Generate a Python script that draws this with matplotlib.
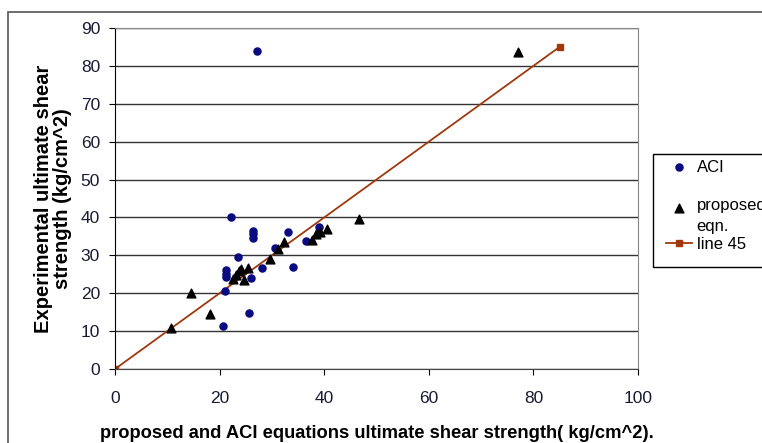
import matplotlib.pyplot as plt
from matplotlib.patches import Rectangle

plt.rcParams['font.family'] = ['Liberation Sans', 'DejaVu Sans']

# ACI equation vs experiment
aci_x = [27.1, 22.1, 26.3, 26.3, 26.3, 33.1, 36.5, 39.1, 30.6, 23.6, 28.2, 34.1,
         21.2, 21.2, 21.2, 26.0, 21.0, 25.7, 20.7]
aci_y = [84.0, 40.0, 36.5, 35.5, 34.6, 36.1, 33.9, 37.6, 32.0, 29.6, 26.6, 27.0,
         26.1, 25.1, 24.2, 23.9, 20.6, 14.9, 11.4]

# proposed equation vs experiment
prop_x = [10.8, 14.6, 18.2, 22.6, 23.1, 23.8, 24.1, 25.4, 24.7, 29.6, 31.1, 32.4,
          37.7, 38.4, 39.2, 40.5, 46.7, 77.0]
prop_y = [10.9, 20.1, 14.5, 23.7, 24.8, 25.9, 26.3, 26.7, 23.5, 29.0, 31.6, 33.6,
          34.0, 35.6, 36.1, 36.9, 39.6, 83.6]

# 45 degree line
line_x = [0, 85]
line_y = [0, 85]

fig = plt.figure(figsize=(7.62, 4.43), dpi=100)
# outer chart frame (runs off the right and bottom edges)
fig.patches.append(Rectangle((8 / 762, -0.1), 1.2, 1 - 12 / 443 + 0.1,
                             transform=fig.transFigure, fill=False,
                             edgecolor='#555555', linewidth=1.2))
# legend frame
fig.patches.append(Rectangle((653 / 762, 1 - 267 / 443), 0.3, 113 / 443,
                             transform=fig.transFigure, fill=False,
                             edgecolor='black', linewidth=1.0))

ax = fig.add_axes([115 / 762, 1 - 369 / 443, 523 / 762, 341 / 443])
ax.set_xlim(0, 100)
ax.set_ylim(0, 90)
ax.set_xticks(range(0, 101, 20))
ax.set_yticks(range(0, 91, 10))
ax.grid(axis='y', color='#333333', linewidth=1.0)
ax.set_axisbelow(True)

ax.plot(line_x, line_y, '-s', color='#A0380C', linewidth=1.3, markersize=5,
        label='line 45', zorder=2)
ax.scatter(aci_x, aci_y, marker='o', s=26, color='#0A0A80', label='ACI', zorder=3)
ax.scatter(prop_x, prop_y, marker='^', s=40, color='black',
           label='\nproposed\neqn.', zorder=4)

for side in ['top', 'right']:
    ax.spines[side].set_color('#888888')
ax.spines['left'].set_color('black')
ax.spines['bottom'].set_color('#444444')
ax.tick_params(axis='both', labelsize=12.5, labelcolor='#1a1a33', direction='out',
               length=4.3)
ax.tick_params(axis='y', pad=6.5)
ax.tick_params(axis='x', pad=11.5)

ax.set_xlabel('proposed and ACI equations ultimate shear strength( kg/cm^2).',
              fontsize=13.2, fontweight='bold', labelpad=13.5)
ax.set_ylabel('Experimental ultimate shear\nstrength (kg/cm^2)', fontsize=14.5,
              fontweight='bold', labelpad=6, linespacing=1.0)

handles, labels = ax.get_legend_handles_labels()
order = [1, 2, 0]
leg = fig.legend([handles[i] for i in order], [labels[i] for i in order],
                 loc='upper left', bbox_to_anchor=(654 / 762, 1 - 148 / 443),
                 frameon=False, fontsize=12, handlelength=1.6,
                 handletextpad=0.25, labelspacing=0.2, borderpad=0.2)
for t in leg.get_texts():
    t.set_linespacing(1.45)

plt.savefig('out.png', dpi=100)
